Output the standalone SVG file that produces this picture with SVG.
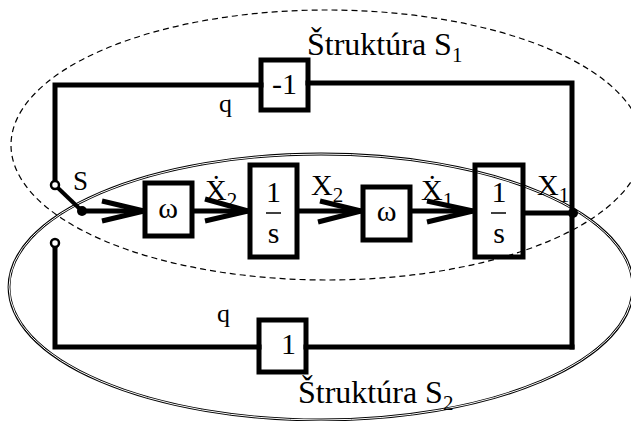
<svg xmlns="http://www.w3.org/2000/svg" width="631" height="421" viewBox="0 0 631 421" font-family="'Liberation Serif','Times New Roman','DejaVu Serif',serif">
<style>
text{font-family:"Liberation Serif","Times New Roman","DejaVu Serif",serif;fill:#000}
.box{fill:none;stroke:#000;stroke-width:5}
.wire{fill:none;stroke:#000;stroke-width:5;stroke-linecap:square}
.arr{fill:none;stroke:#000;stroke-width:5;stroke-linecap:butt;stroke-linejoin:miter}
.lbl{font-size:30px}
.sub{font-size:21px}
.bar{stroke:#000;stroke-width:1.5}
</style>
<rect width="631" height="421" fill="#fff"/>
<g id="regions">
<ellipse id="s1-region" cx="327" cy="145" rx="316" ry="135" fill="none" stroke="#000" stroke-width="1.2" stroke-dasharray="6 4"/>
<g id="s2-region">
<ellipse cx="321" cy="287" rx="312" ry="133" fill="none" stroke="#000" stroke-width="2.8"/>
<ellipse cx="321" cy="287" rx="312" ry="133" fill="none" stroke="#fff" stroke-width="1"/>
</g>
</g>
<g id="connectors">
<polyline class="wire" points="55,181 55,85 261,85"/>
<polyline class="wire" points="308,83 572,83 572,347"/>
<polyline class="wire" points="55,247 55,347 259,347"/>
<line class="wire" x1="306" y1="347" x2="572" y2="347"/>
<line x1="58" y1="188" x2="82" y2="211" stroke="#000" stroke-width="4"/>
<line x1="82" y1="211" x2="145" y2="211" stroke="#000" stroke-width="5"/>
<polyline class="arr" points="102,201 144,211 102,221"/>
<line x1="192" y1="211" x2="250" y2="211" stroke="#000" stroke-width="5"/>
<polyline class="arr" points="205,199 248,211 205,221"/>
<line x1="297" y1="211" x2="363" y2="211" stroke="#000" stroke-width="5"/>
<polyline class="arr" points="320,201 361,211 318,222"/>
<line x1="410" y1="211" x2="475" y2="211" stroke="#000" stroke-width="5"/>
<polyline class="arr" points="427,201 473,211 427,222"/>
<line x1="523" y1="213" x2="573" y2="213" stroke="#000" stroke-width="5"/>
</g>
<g id="switch">
<circle cx="55" cy="185" r="4" fill="#fff" stroke="#000" stroke-width="2.5"/>
<circle cx="55" cy="243" r="4" fill="#fff" stroke="#000" stroke-width="2.5"/>
<circle cx="82" cy="211" r="5" fill="#000"/>
<text x="73" y="190" font-size="27">S</text>
</g>
<g id="junction"><circle cx="573" cy="213" r="5" fill="#000"/></g>
<g id="gain-neg1">
<rect class="box" x="261" y="60" width="47" height="50"/>
<text class="lbl" x="272" y="94">-1</text>
</g>
<g id="gain-1">
<rect class="box" x="259" y="320" width="47" height="52"/>
<text class="lbl" x="281" y="354">1</text>
</g>
<g id="omega1">
<rect class="box" x="145" y="183" width="47" height="53"/>
<text class="lbl" x="168" y="218" text-anchor="middle">ω</text>
</g>
<g id="integrator1">
<rect class="box" x="250" y="165" width="47" height="92"/>
<text class="lbl" x="273.5" y="202" text-anchor="middle">1</text>
<line class="bar" x1="266" y1="213" x2="281" y2="213"/>
<text class="lbl" x="273.5" y="243" text-anchor="middle">s</text>
</g>
<g id="omega2">
<rect class="box" x="363" y="187" width="47" height="53"/>
<text class="lbl" x="386.5" y="221" text-anchor="middle">ω</text>
</g>
<g id="integrator2">
<rect class="box" x="475" y="165" width="48" height="92"/>
<text class="lbl" x="499" y="202" text-anchor="middle">1</text>
<line class="bar" x1="491" y1="213" x2="506" y2="213"/>
<text class="lbl" x="499" y="243" text-anchor="middle">s</text>
</g>
<g id="labels">
<text x="307" y="55" font-size="32">Štruktúra S<tspan class="sub" dy="7">1</tspan></text>
<text x="298" y="403" font-size="32">Štruktúra S<tspan class="sub" dy="7">2</tspan></text>
<text x="219" y="112" font-size="26">q</text>
<text x="217" y="322" font-size="26">q</text>
<text class="lbl" x="205" y="200">Ẋ<tspan class="sub" dy="7">2</tspan></text>
<text class="lbl" x="311" y="195">X<tspan class="sub" dy="7">2</tspan></text>
<text class="lbl" x="421" y="200">Ẋ<tspan class="sub" dy="7">1</tspan></text>
<text class="lbl" x="537" y="195">X<tspan class="sub" dy="7">1</tspan></text>
</g>
</svg>
